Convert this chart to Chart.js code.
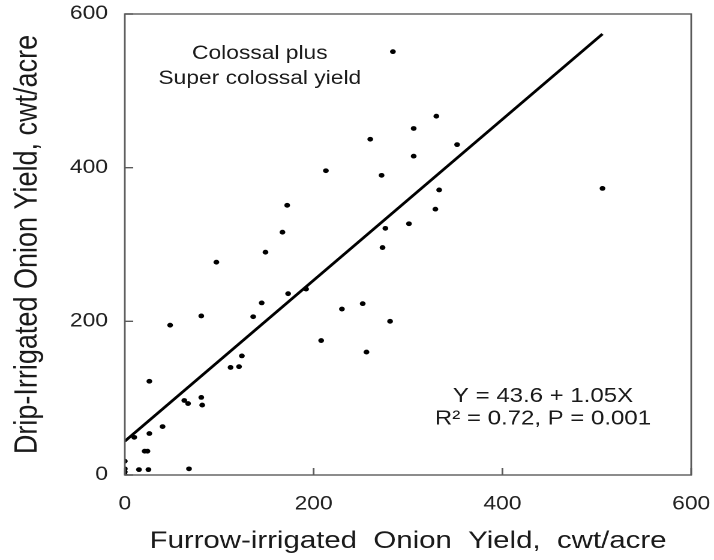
<!DOCTYPE html>
<html>
<head>
<meta charset="utf-8">
<script src="https://cdn.jsdelivr.net/npm/chart.js@4"></script>
<style>
  html, body { margin: 0; padding: 0; background: #fff; }
  #wrap { width: 714px; height: 560px; }
  #chart { display: block; }
</style>
</head>
<body>
<!-- the source figure is stretched sideways, so the canvas is drawn narrow and shown wide -->
<div id="wrap"><canvas id="chart" width="595" height="560" style="width:714px;height:560px"></canvas></div>
<script>
// ── Data ────────────────────────────────────────────────────────────────────

const FURROW_X = [0, 0, 0, 0, 15, 25, 68, 21, 24, 10, 26, 40, 26, 63, 67, 81, 82, 112, 121, 124,
                  48, 81, 97, 136, 145, 149, 167, 172, 173, 192, 208, 213, 230, 252, 256, 260,
                  272, 273, 276, 281, 284, 301, 306, 306, 329, 330, 333, 352, 506];
const DRIP_Y   = [0, 4, 8, 18, 7, 7, 8, 31, 31, 49, 54, 63, 122, 97, 93, 101, 91, 140, 141, 155,
                  195, 207, 277, 206, 224, 290, 316, 351, 236, 242, 175, 396, 216, 223, 160, 437,
                  390, 296, 321, 200, 551, 327, 451, 415, 346, 467, 371, 430, 373];

// fitted line, ends as drawn in the figure
const FIT_X = [0, 506];
const FIT_Y = [44, 574];

const X_TICKS = [0, 200, 400, 600];
const Y_TICKS = [0, 200, 400, 600];

const NOTE_TOP    = ["Colossal plus", "Super colossal yield"];
const NOTE_TOP_AT = { x: 143, y: [548, 516] };
const NOTE_FIT    = ["Y = 43.6 + 1.05X", "R\u00B2 = 0.72, P = 0.001"];
const NOTE_FIT_AT = { x: 443, y: [102, 73] };

const FONT = "'Liberation Sans', Arial, sans-serif";
const INK  = "#1a1a1a";

// ── Plugin: frame, inward tick marks, text notes ────────────────────────────

const framePlugin = {
    id: "frame",
    afterDraw(chart) {
        const { ctx, chartArea: a, scales: { x, y } } = chart;
        ctx.save();

        ctx.strokeStyle = "#5a5a5a";
        ctx.lineWidth = 1.4;
        ctx.strokeRect(a.left, a.top, a.right - a.left, a.bottom - a.top);

        ctx.beginPath();
        for (const v of X_TICKS) {
            const px = x.getPixelForValue(v);
            ctx.moveTo(px, a.bottom);
            ctx.lineTo(px, a.bottom - 7);
        }
        for (const v of Y_TICKS) {
            const py = y.getPixelForValue(v);
            ctx.moveTo(a.left, py);
            ctx.lineTo(a.left + 7, py);
        }
        ctx.stroke();

        ctx.fillStyle = INK;
        ctx.textAlign = "center";
        ctx.textBaseline = "middle";

        ctx.font = `19px ${FONT}`;
        NOTE_TOP.forEach((t, i) =>
            ctx.fillText(t, x.getPixelForValue(NOTE_TOP_AT.x), y.getPixelForValue(NOTE_TOP_AT.y[i])));

        ctx.font = `20px ${FONT}`;
        NOTE_FIT.forEach((t, i) =>
            ctx.fillText(t, x.getPixelForValue(NOTE_FIT_AT.x), y.getPixelForValue(NOTE_FIT_AT.y[i])));

        ctx.restore();
    }
};

// ── Chart ───────────────────────────────────────────────────────────────────

new Chart(document.getElementById("chart"), {
    type: "scatter",
    data: {
        datasets: [
            {
                label: "Plots",
                data: FURROW_X.map((v, i) => ({ x: v, y: DRIP_Y[i] })),
                backgroundColor: "#000",
                borderColor: "#000",
                pointRadius: 2.4,
                pointBorderWidth: 0
            },
            {
                label: "Fit",
                type: "line",
                data: FIT_X.map((v, i) => ({ x: v, y: FIT_Y[i] })),
                borderColor: "#000",
                borderWidth: 2.6,
                pointRadius: 0,
                fill: false
            }
        ]
    },
    options: {
        responsive: false,
        devicePixelRatio: 2,
        animation: false,
        events: [],
        layout: { padding: { left: 0, top: 14, right: 19, bottom: 0 } },
        plugins: {
            legend: { display: false },
            tooltip: { enabled: false }
        },
        scales: {
            x: {
                type: "linear",
                min: 0,
                max: 600,
                afterBuildTicks: s => { s.ticks = X_TICKS.map(v => ({ value: v })); },
                // keep the plot box fixed; the end labels may hang over the edges
                afterFit: s => { s.height = 85; s.paddingLeft = 0; s.paddingRight = 0; },
                grid: { display: false, drawTicks: false },
                border: { display: false },
                ticks: { padding: 18, color: "#222", font: { family: FONT, size: 19 } },
                title: {
                    display: true,
                    text: "Furrow-irrigated  Onion  Yield,  cwt/acre",
                    color: INK,
                    font: { family: FONT, size: 24.5 },
                    padding: { top: 0, bottom: 4 }
                }
            },
            y: {
                type: "linear",
                min: 0,
                max: 600,
                afterBuildTicks: s => { s.ticks = Y_TICKS.map(v => ({ value: v })); },
                afterFit: s => { s.width = 104; s.paddingTop = 0; s.paddingBottom = 0; },
                grid: { display: false, drawTicks: false },
                border: { display: false },
                ticks: { padding: 14, color: "#222", font: { family: FONT, size: 19 } },
                title: {
                    display: true,
                    text: "Drip-Irrigated Onion Yield, cwt/acre",
                    color: INK,
                    font: { family: FONT, size: 27 },
                    padding: { top: 7, bottom: 0 }
                }
            }
        }
    },
    plugins: [framePlugin]
});
</script>
</body>
</html>
